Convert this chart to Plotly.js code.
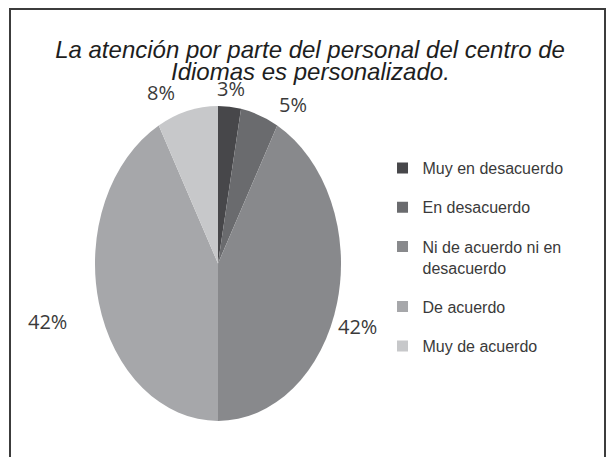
<!DOCTYPE html>
<html>
<head>
<meta charset="utf-8">
<script src="https://cdn.plot.ly/plotly-3.0.1.min.js"></script>
<style>
html,body{margin:0;padding:0;background:#fff;}
#chart{width:613px;height:457px;}
</style>
</head>
<body>
<div id="chart"></div>
<script>
// ---- data ----
var categories = ["Muy en desacuerdo", "En desacuerdo", "Ni de acuerdo ni en desacuerdo", "De acuerdo", "Muy de acuerdo"];
var legendLabels = ["Muy en desacuerdo", "En desacuerdo", "Ni de acuerdo ni en<br>desacuerdo", "De acuerdo", "Muy de acuerdo"];
var values = [3, 5, 42, 42, 8];
var colors = ["#47474a", "#6a6b6e", "#88898c", "#a6a7aa", "#c7c8ca"];
var titleLine1 = "La atención por parte del personal del centro de";
var titleLine2 = "Idiomas es personalizado.";

// ---- geometry (pixels) ----
var W = 613, H = 457;
var CX = 218, CY = 263.5, RX = 123, RY = 157.5;
// label pixel positions for each slice
var labelPos = [[231, 89], [293, 105], [357, 326], [48, 321], [161, 92]];

var pie = {
  type: "pie",
  labels: categories,
  values: values,
  sort: false,
  direction: "clockwise",
  rotation: 0,
  textinfo: "none",
  hoverinfo: "label+percent",
  showlegend: false,
  marker: {colors: colors, line: {width: 0}},
  domain: {
    x: [(CX - RY) / W, (CX + RY) / W],
    y: [(H - CY - RY) / H, (H - CY + RY) / H]
  }
};

var data = [pie];
for (var i = 0; i < categories.length; i++) {
  data.push({
    type: "scatter",
    mode: "markers",
    x: [null], y: [null],
    name: legendLabels[i],
    legendgroup: "g" + i,
    showlegend: true,
    hoverinfo: "skip",
    marker: {symbol: "square", size: 11, color: colors[i]}
  });
}

var annotations = [];
for (var j = 0; j < values.length; j++) {
  annotations.push({
    xref: "paper", yref: "paper",
    x: labelPos[j][0] / W, y: 1 - labelPos[j][1] / H,
    xanchor: "center", yanchor: "middle",
    text: values[j] + "%",
    showarrow: false,
    font: {family: "Open Sans, sans-serif", size: 20, color: "#3a3a3a"}
  });
}
annotations.push({
  xref: "paper", yref: "paper",
  x: 310 / W, y: 1 - 71 / H,
  xanchor: "center", yanchor: "middle",
  text: titleLine2,
  showarrow: false,
  font: {family: "Liberation Sans, Arial, sans-serif", size: 24, color: "#1e1e1e", style: "italic"}
});

var layout = {
  width: W, height: H,
  margin: {l: 0, r: 0, t: 0, b: 0},
  paper_bgcolor: "#ffffff",
  plot_bgcolor: "rgba(0,0,0,0)",
  title: {
    text: titleLine1,
    x: 310 / W, xanchor: "center",
    y: 1 - 50 / H, yanchor: "middle",
    font: {family: "Liberation Sans, Arial, sans-serif", size: 24, color: "#1e1e1e", style: "italic"}
  },
  xaxis: {visible: false},
  yaxis: {visible: false},
  showlegend: true,
  legend: {
    x: 0.624, xanchor: "left",
    y: 1 - 151 / H, yanchor: "top",
    traceorder: "grouped",
    tracegroupgap: 15.5,
    valign: "top",
    bgcolor: "rgba(0,0,0,0)",
    font: {family: "Liberation Sans, Arial, sans-serif", size: 16, color: "#3a3a3a"}
  },
  annotations: annotations,
  shapes: [{
    type: "rect", xref: "paper", yref: "paper",
    x0: 10 / W, x1: 605 / W, y0: -0.1, y1: 1 - 9 / H,
    line: {color: "#3c3c3c", width: 2},
    fillcolor: "rgba(0,0,0,0)"
  }]
};

var gd = document.getElementById("chart");
Plotly.newPlot(gd, data, layout, {displayModeBar: false, staticPlot: true}).then(function () {
  var layer = gd.querySelector(".pielayer");
  if (layer) {
    var bb = layer.getBBox();
    var cx = bb.x + bb.width / 2;
    var s = RX / RY;
    layer.setAttribute("transform", "translate(" + cx + ",0) scale(" + s + ",1) translate(" + (-cx) + ",0)");
  }
});
</script>
</body>
</html>
